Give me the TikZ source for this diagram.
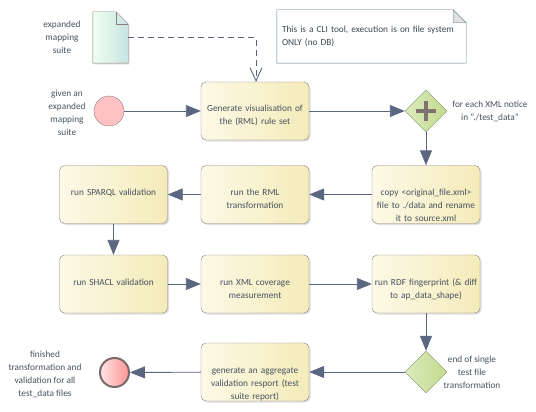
\documentclass[tikz,border=0pt]{standalone}
\usepackage{fontspec}
\setmainfont{Carlito}
\usetikzlibrary{arrows.meta,shapes.geometric,shadows}
\definecolor{ink}{HTML}{46525F}
\definecolor{wire}{HTML}{5B6680}
\definecolor{edge}{HTML}{8E7D7D}
\definecolor{actl}{HTML}{FCF9E6}
\definecolor{actr}{HTML}{F4EBB9}
\definecolor{gatel}{HTML}{DCEBBE}
\definecolor{gater}{HTML}{C3DA8C}
\definecolor{notec}{HTML}{5E7F8F}
\tikzset{act/.style={draw=edge,rounded corners=5pt,left color=actl,right color=actr,minimum width=108pt,minimum height=58pt,inner xsep=0pt,text width=108pt,align=center,text height=4pt,text depth=2pt,text=ink,drop shadow={shadow xshift=1.5pt,shadow yshift=-1.5pt,opacity=.25,fill=black!50}},
gate/.style={diamond,draw=edge!80!green,left color=gatel,right color=gater,inner sep=0pt,minimum width=42pt,minimum height=42pt},
lbl/.style={align=center,text=ink},
arr/.style={->,>={Triangle[length=15pt,width=12pt]},draw=wire,line width=.9pt}}
\begin{document}
\begin{tikzpicture}[x=1pt,y=-1pt,font=\fontsize{9.3}{13}\selectfont]
\useasboundingbox(0,0)rectangle(536,412);
% document and note
\node[minimum width=35pt,minimum height=51pt,inner sep=0pt](doc)at(110.5,37.5){};
\draw[draw=edge,left color=green!6,right color=teal!22,drop shadow={shadow xshift=1.5pt,shadow yshift=-1.5pt,opacity=.2,fill=black!50}](doc.south west)--(doc.north west)--([xshift=-12pt]doc.north east)--([yshift=-12pt]doc.north east)--(doc.south east)--cycle;
\draw[edge]([xshift=-12pt]doc.north east)--([xshift=-12pt,yshift=-12pt]doc.north east)--([yshift=-12pt]doc.north east);
\node[lbl](doclbl)at(62,37){expanded\\mapping\\suite};
\node[minimum width=189pt,minimum height=53pt,inner sep=0pt,text width=179pt,align=left,text=ink!85!black](note)at(371.5,36.5){This is a CLI tool, execution is on file system\\ONLY (no DB)};
\draw[notec](note.south west)--(note.north west)--([xshift=-13pt]note.north east)--([yshift=-13pt]note.north east)--(note.south east)--cycle;
\draw[notec,fill=black!12]([xshift=-13pt]note.north east)--([xshift=-13pt,yshift=-13pt]note.north east)--([yshift=-13pt]note.north east)--cycle;
% start and fork
\node[circle,draw=edge,fill=red!24,minimum size=30pt,inner sep=0pt](start)at(109,111){};
\node[lbl](startlbl)at(67,113){given an\\expanded\\mapping\\suite};
\node[act](gen)at(255,111){Generate visualisation of\\the (RML) rule set};
\node[gate](fork)at(426,111){};
\draw[edge!90!black,line width=4.5pt](fork)++(-10,0)--++(20,0)(fork)++(0,-10)--++(0,20);
\node[lbl](forklbl)at(490,111.5){for each XML notice\\in "./test\_data"};
% actions
\node[act](copy)at(426,194.5){copy <original\_file.xml>\\file to ./data and rename\\it to source.xml};
\node[act](rml)at(255,194.5){run the RML\\transformation};
\node[act](sparql)at(113.5,194.5){run SPARQL validation};
\node[act](shacl)at(113.5,284){run SHACL validation};
\node[act](xmlcov)at(255,284){run XML coverage\\measurement};
\node[act](rdf)at(426,284){run RDF fingerprint (\& diff\\to ap\_data\_shape)};
% merge and end
\node[gate](merge)at(426,372){};
\node[lbl](mergelbl)at(472,372){end of single\\test file\\transformation};
\node[act](report)at(255,372){generate an aggregate\\validation resport (test\\suite report)};
\node[circle,draw=edge!85!black,line width=2pt,left color=red!10,right color=red!42,minimum size=29pt,inner sep=0pt](end)at(114.5,372.5){};
\node[lbl](endlbl)at(45,374.5){finished\\transformation and\\validation for all\\test\_data files};
\foreach\a/\b in{start/gen,gen/fork,fork/copy,copy/rml,rml/sparql,sparql/shacl,shacl/xmlcov,xmlcov/rdf,rdf/merge,merge/report,report/end}\draw[arr](\a)--(\b);
\draw[wire,line width=.9pt,dash pattern=on 6pt off 4pt,-{Straight Barb[length=13pt,width=12pt]}](doc.east)-|([xshift=1pt]gen.north);
\end{tikzpicture}
\end{document}
